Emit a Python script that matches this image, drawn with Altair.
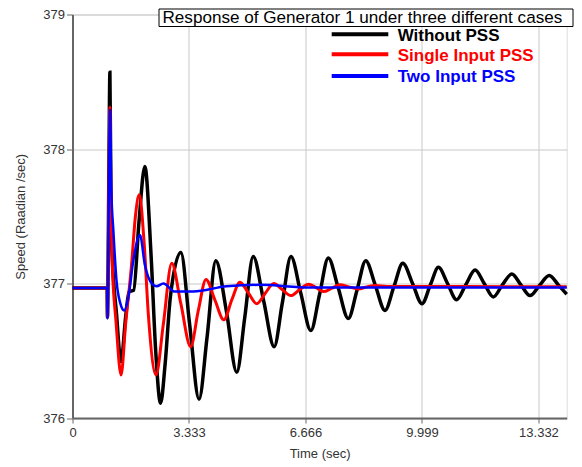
import altair as alt
import pandas as pd

FONT = "Liberation Sans, Arial, sans-serif"

# ---- data ----
black_t = [0, 0.99, 1.0, 1.04, 1.07, 1.10, 1.12, 1.26, 1.39, 1.52, 1.62, 1.75, 1.9, 2.07, 2.25, 2.38, 2.52,
           2.65, 2.8, 3.10, 3.35, 3.62, 3.85, 4.10, 4.40, 4.70, 4.93, 5.17, 5.47, 5.77, 6.0, 6.25, 6.53,
           6.82, 7.07, 7.32, 7.6, 7.89, 8.14, 8.39, 8.66, 8.94, 9.2, 9.45, 9.73, 10.0, 10.24, 10.47, 10.73,
           10.99, 11.25, 11.52, 11.78, 12.04, 12.3, 12.57, 12.83, 13.09, 13.36, 13.64, 13.9, 14.14]
black_v = [376.967, 376.967, 376.75, 377.8, 378.57, 377.6, 377.31, 376.77, 376.42, 376.75, 376.94, 376.95,
           377.45, 377.87, 377.2, 376.5, 376.11, 376.4, 376.9, 377.23, 376.7, 376.14, 376.6, 377.17, 376.8,
           376.34, 376.75, 377.20, 376.87, 376.53, 376.85, 377.20, 376.93, 376.65, 376.92, 377.19, 376.97,
           376.74, 376.95, 377.17, 376.99, 376.80, 376.98, 377.15, 377.0, 376.85, 376.99, 377.12, 377.0,
           376.88, 376.99, 377.10, 377.0, 376.90, 376.99, 377.07, 376.99, 376.91, 376.985, 377.06, 376.99,
           376.92]

red_t = [0, 0.99, 1.0, 1.04, 1.07, 1.10, 1.13, 1.25, 1.39, 1.52, 1.69, 1.80, 1.91, 2.05, 2.17, 2.39, 2.6,
         2.84, 3.1, 3.38, 3.6, 3.82, 4.07, 4.33, 4.56, 4.79, 5.03, 5.27, 5.52, 5.76, 6.0, 6.25, 6.5, 6.75,
         6.97, 7.18, 7.42, 7.65, 7.9, 8.18, 8.42, 8.66, 9.0, 9.6, 14.14]
red_v = [376.967, 376.967, 376.75, 377.7, 378.31, 377.6, 377.2, 376.7, 376.32, 376.7, 377.14, 377.5,
         377.66, 377.3, 376.77, 376.32, 376.7, 377.15, 376.85, 376.53, 376.8, 377.03, 376.88, 376.73,
         376.88, 377.01, 376.93, 376.85, 376.93, 377.0, 376.955, 376.91, 376.955, 376.995, 376.97, 376.94,
         376.965, 376.99, 376.975, 376.96, 376.975, 376.985, 376.978, 376.978, 376.975]

blue_t = [0, 0.995, 1.0, 1.04, 1.075, 1.11, 1.17, 1.26, 1.36, 1.48, 1.6, 1.74, 1.93, 2.07, 2.27, 2.41,
          2.6, 2.93, 3.46, 4.41, 5.36, 6.8, 14.14]
blue_v = [376.967, 376.967, 376.74, 377.7, 378.29, 377.7, 377.39, 377.02, 376.86, 376.80, 376.9, 377.17,
          377.36, 377.14, 377.0, 376.98, 377.0, 376.94, 376.94, 376.98, 376.99, 376.97, 376.97]

series_names = ["Without PSS", "Single Input PSS", "Two Input PSS"]
series_colors = ["#000000", "#ff0000", "#0000ff"]
x_ticks = [0, 3.333, 6.666, 9.999, 13.332]
y_ticks = [376, 377, 378, 379]
title_text = "Response of Generator 1 under three different cases"

TOP = 6.5
W, H = 494.2, 403.5
OY = 8 + TOP  # page y of the plot's top edge (used to place overlay items)

x_scale = alt.Scale(domain=[0, 14.14], nice=False, zero=False)
y_scale = alt.Scale(domain=[376, 379], nice=False, zero=False)

x_axis = alt.Axis(values=x_ticks, title="Time (sec)", labelExpr="datum.value == 0 ? '0' : format(datum.value, '.3f')",
                  grid=True, gridColor="#c8c8c8", gridWidth=1, domainColor="#666666", domainWidth=2,
                  tickColor="#666666", tickSize=5, labelPadding=3, labelFontSize=13, labelColor="#333333",
                  labelFont=FONT, titleFont=FONT, titleFontSize=13, titleFontWeight="normal",
                  titleColor="#333333", titlePadding=8, labelFlush=False)
y_axis = alt.Axis(values=y_ticks, title="Speed (Raadian /sec)", format="d",
                  grid=True, gridColor="#c8c8c8", gridWidth=1, domainColor="#666666", domainWidth=2,
                  tickColor="#666666", tickSize=6, labelPadding=2, labelFontSize=13, labelColor="#333333",
                  labelFont=FONT, titleFont=FONT, titleFontSize=13, titleFontWeight="normal",
                  titleColor="#333333", titlePadding=15, labelFlush=False)


def frame(t, v, name):
    return pd.DataFrame({"t": t, "v": v, "series": name})


widths = [3.5, 3.0, 2.5]
datasets = [(black_t, black_v), (red_t, red_v), (blue_t, blue_v)]
layers = []
for (t, v), name, col, w in zip(datasets, series_names, series_colors, widths):
    layers.append(
        alt.Chart(frame(t, v, name)).mark_line(color=col, strokeWidth=w, interpolate="monotone").encode(
            x=alt.X("t:Q", scale=x_scale, axis=x_axis),
            y=alt.Y("v:Q", scale=y_scale, axis=y_axis),
        )
    )

# title box
box_df = pd.DataFrame({"label": [title_text]})
layers.append(
    alt.Chart(box_df).mark_rect(fill="white", stroke="black", strokeWidth=1).encode(
        x=alt.value(86.5), x2=alt.value(500.5), y=alt.value(9.0 - OY), y2=alt.value(26.5 - OY))
)
layers.append(
    alt.Chart(box_df).mark_text(align="left", baseline="middle", font=FONT, fontSize=17.1, color="black").encode(
        x=alt.value(90.0), y=alt.value(17.7 - OY), text="label:N")
)

# legend
legend_y = [34.3, 54.3, 76.0]
for name, col, ly in zip(series_names, series_colors, legend_y):
    ldf = pd.DataFrame({"label": [name]})
    layers.append(
        alt.Chart(ldf).mark_rule(color=col, strokeWidth=4).encode(
            x=alt.value(259.2), x2=alt.value(315.8), y=alt.value(ly - OY))
    )
    layers.append(
        alt.Chart(ldf).mark_text(align="left", baseline="middle", font=FONT, fontSize=17, fontWeight="bold",
                                 color=col).encode(x=alt.value(325.2), y=alt.value(ly + 1.2 - OY), text="label:N")
    )

chart = alt.layer(*layers).properties(
    width=W, height=H,
    autosize=alt.AutoSizeParams(type="none"),
    padding={"left": 64.5, "top": TOP, "right": 7.3, "bottom": 46},
).configure_view(strokeWidth=0).configure(background="white")

chart.save("out.html", embed_options={"renderer": "svg", "actions": False})
